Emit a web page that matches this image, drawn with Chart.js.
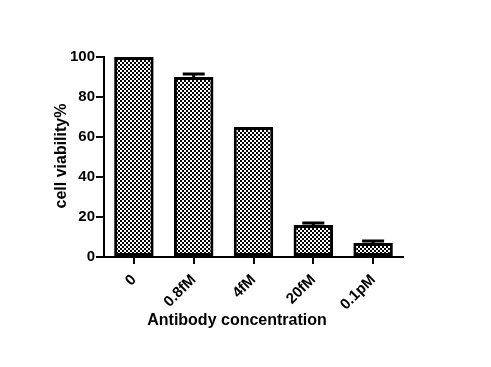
<!DOCTYPE html>
<html>
<head>
<meta charset="utf-8">
<script src="https://cdn.jsdelivr.net/npm/chart.js@4"></script>
<style>
  html, body { margin: 0; padding: 0; background: #fff; }
  #wrap { width: 491px; height: 367px; }
</style>
</head>
<body>
<div id="wrap"><canvas id="chart" width="491" height="367"></canvas></div>
<script>
// data
const categories = ['0', '0.8fM', '4fM', '20fM', '0.1pM'];
const viability = [100, 90, 65, 16, 7];
const errors = [0, 1.5, 0, 1, 1];
const yTicks = [0, 20, 40, 60, 80, 100];

const FONT = '"Liberation Sans", Arial, sans-serif';

function checkerPattern() {
  const c = document.createElement('canvas');
  c.width = 4; c.height = 4;
  const g = c.getContext('2d');
  g.fillStyle = '#fff';
  g.fillRect(0, 0, 4, 4);
  g.fillStyle = '#000';
  g.fillRect(0, 0, 2, 2);
  g.fillRect(2, 2, 2, 2);
  return g.createPattern(c, 'repeat');
}

// error bars on top of each bar
const errorBars = {
  id: 'errorBars',
  afterDatasetsDraw(chart) {
    const ctx = chart.ctx;
    const y = chart.scales.y;
    const meta = chart.getDatasetMeta(0);
    ctx.save();
    ctx.strokeStyle = '#000';
    ctx.lineWidth = 3;
    meta.data.forEach((bar, i) => {
      if (!errors[i]) return;
      const top = y.getPixelForValue(viability[i] + errors[i]);
      ctx.beginPath();
      ctx.moveTo(bar.x, bar.y);
      ctx.lineTo(bar.x, top);
      ctx.moveTo(bar.x - 11, top);
      ctx.lineTo(bar.x + 11, top);
      ctx.stroke();
    });
    ctx.restore();
  }
};

// axis titles placed like the original figure
const axisTitles = {
  id: 'axisTitles',
  afterDraw(chart) {
    const ctx = chart.ctx;
    ctx.save();
    ctx.fillStyle = '#000';
    ctx.font = 'bold 16px ' + FONT;
    ctx.textAlign = 'center';
    ctx.textBaseline = 'middle';
    ctx.fillText('Antibody concentration', 237, 321);
    ctx.translate(62, 156);
    ctx.rotate(-Math.PI / 2);
    ctx.fillText('cell viability%', 0, 0);
    ctx.restore();
  }
};

new Chart(document.getElementById('chart'), {
  type: 'bar',
  data: {
    labels: categories,
    datasets: [{
      data: viability,
      backgroundColor: checkerPattern(),
      borderColor: '#000',
      borderWidth: 3,
      borderSkipped: false,
      categoryPercentage: 1,
      barPercentage: 0.66
    }]
  },
  options: {
    responsive: false,
    animation: false,
    layout: { padding: { left: 0, top: 57, right: 88, bottom: 0 } },
    plugins: { legend: { display: false }, tooltip: { enabled: false } },
    scales: {
      x: {
        afterFit: s => { s.height = 110; },
        border: { color: '#000', width: 2 },
        grid: { drawOnChartArea: false, offset: false, color: '#000', tickLength: 7, lineWidth: 2 },
        ticks: {
          color: '#000', font: { family: FONT, size: 15, weight: 'bold' },
          minRotation: 45, maxRotation: 45, padding: 7
        }
      },
      y: {
        min: 0, max: 100,
        afterFit: s => { s.width = 104; },
        afterBuildTicks: s => { s.ticks = yTicks.map(v => ({ value: v })); },
        border: { color: '#000', width: 2 },
        grid: { drawOnChartArea: false, color: '#000', tickLength: 8, lineWidth: 2 },
        ticks: { color: '#000', font: { family: FONT, size: 15, weight: 'bold' }, padding: 1 }
      }
    }
  },
  plugins: [errorBars, axisTitles]
});
</script>
</body>
</html>
